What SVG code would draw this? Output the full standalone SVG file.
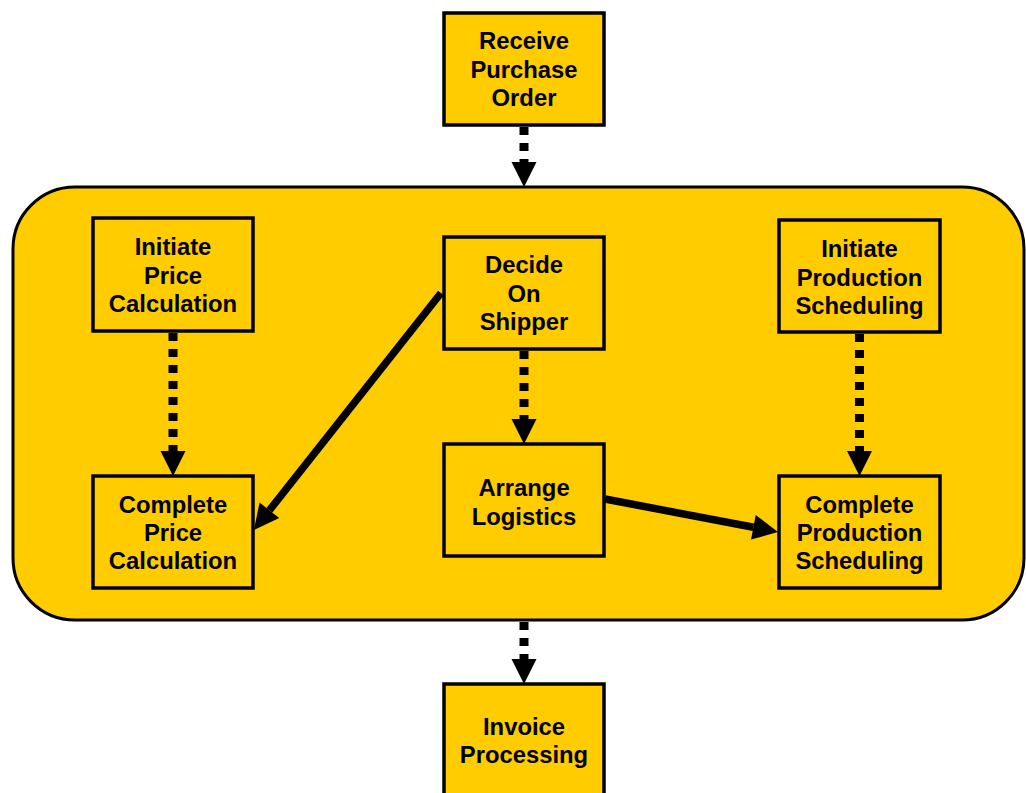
<svg xmlns="http://www.w3.org/2000/svg" width="1026" height="793" viewBox="0 0 1026 793">
<style>
.box{fill:#FFCC00;stroke:#000;stroke-width:3.5}
.cont{fill:#FFCC00;stroke:#000;stroke-width:3}
.lbl{font-family:"Liberation Sans",Arial,sans-serif;font-weight:bold;font-size:23.8px;fill:#000;text-anchor:middle}
.dash{stroke:#000;stroke-width:9;stroke-dasharray:8 8;fill:none}
.solid{stroke:#000;stroke-width:7.5;fill:none}
</style>
<defs>
<marker id="ah" markerUnits="userSpaceOnUse" markerWidth="26" markerHeight="26" refX="0" refY="12.5" orient="auto" overflow="visible">
<path d="M0,0 L25,12.5 L0,25 Z" fill="#000"/>
</marker>
</defs>
<rect fill="#fff" width="1026" height="793"/>
<g id="container">
<rect class="cont" x="13" y="187" width="1011" height="433" rx="62" ry="62"/>
</g>
<g id="connectors">
<line class="dash" x1="524" y1="127" x2="524" y2="162" marker-end="url(#ah)"/>
<line class="dash" x1="173" y1="333" x2="173" y2="451" marker-end="url(#ah)"/>
<line class="dash" x1="524" y1="351" x2="524" y2="419" marker-end="url(#ah)"/>
<line class="dash" x1="859.5" y1="334" x2="859.5" y2="451" marker-end="url(#ah)"/>
<line class="dash" x1="524" y1="622" x2="524" y2="659" marker-end="url(#ah)"/>
<line class="solid" x1="441" y1="293" x2="269.4" y2="510.3" marker-end="url(#ah)"/>
<line class="solid" x1="605" y1="499" x2="753.4" y2="527.3" marker-end="url(#ah)"/>
</g>
<g id="receive-purchase-order">
<rect class="box" x="444" y="13" width="160" height="112"/>
<text class="lbl" x="524" y="49">Receive</text>
<text class="lbl" x="524" y="78">Purchase</text>
<text class="lbl" x="524" y="106">Order</text>
</g>
<g id="initiate-price-calculation">
<rect class="box" x="93" y="218" width="160" height="113"/>
<text class="lbl" x="173" y="255">Initiate</text>
<text class="lbl" x="173" y="284">Price</text>
<text class="lbl" x="173" y="312">Calculation</text>
</g>
<g id="decide-on-shipper">
<rect class="box" x="444" y="237" width="160" height="112"/>
<text class="lbl" x="524" y="273">Decide</text>
<text class="lbl" x="524" y="302">On</text>
<text class="lbl" x="524" y="330">Shipper</text>
</g>
<g id="initiate-production-scheduling">
<rect class="box" x="779" y="220" width="161" height="112"/>
<text class="lbl" x="859.5" y="257">Initiate</text>
<text class="lbl" x="859.5" y="286">Production</text>
<text class="lbl" x="859.5" y="314">Scheduling</text>
</g>
<g id="complete-price-calculation">
<rect class="box" x="93" y="476" width="160" height="112"/>
<text class="lbl" x="173" y="513">Complete</text>
<text class="lbl" x="173" y="541">Price</text>
<text class="lbl" x="173" y="569">Calculation</text>
</g>
<g id="arrange-logistics">
<rect class="box" x="444" y="444" width="160" height="112"/>
<text class="lbl" x="524" y="496">Arrange</text>
<text class="lbl" x="524" y="525">Logistics</text>
</g>
<g id="complete-production-scheduling">
<rect class="box" x="779" y="476" width="161" height="112"/>
<text class="lbl" x="859.5" y="513">Complete</text>
<text class="lbl" x="859.5" y="541">Production</text>
<text class="lbl" x="859.5" y="569">Scheduling</text>
</g>
<g id="invoice-processing">
<rect class="box" x="444" y="684" width="160" height="112"/>
<text class="lbl" x="524" y="735">Invoice</text>
<text class="lbl" x="524" y="763">Processing</text>
</g>
</svg>
